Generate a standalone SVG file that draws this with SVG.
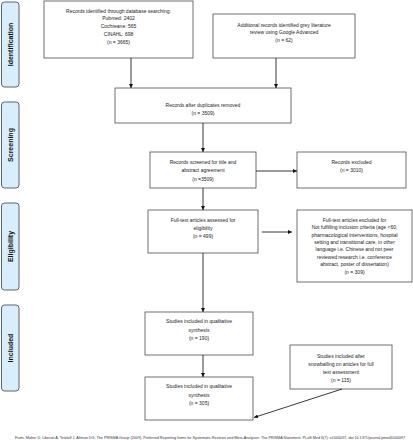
<svg xmlns="http://www.w3.org/2000/svg" width="413" height="440" viewBox="0 0 413 440">
<style>
.bg{fill:#fff}
.box{fill:#fff;stroke:#4d4d4d;stroke-width:0.8}
.side{fill:#d9eefc;stroke:#4a5563;stroke-width:0.9}
.t{font-family:"Liberation Sans",Arial,sans-serif;font-size:5px;fill:#222;text-anchor:middle}
.s{font-family:"Liberation Sans",Arial,sans-serif;font-size:7px;font-weight:bold;fill:#111;text-anchor:middle}
.f{font-family:"Liberation Sans",Arial,sans-serif;font-size:3.4px;fill:#333;text-anchor:middle}
.c{stroke:#222;stroke-width:0.9;fill:none;marker-end:url(#ah)}
</style>
<defs>
<marker id="ah" viewBox="0 0 10 10" refX="10" refY="5" markerWidth="4" markerHeight="4" orient="auto" markerUnits="userSpaceOnUse">
<path d="M0,0 L10,5 L0,10 z" fill="#111"/>
</marker>
</defs>
<rect class="bg" x="0" y="0" width="413" height="440"/>

<g id="side-identification"><rect class="side" x="1.5" y="2" width="17.5" height="85" rx="3"/><text class="s" transform="translate(12.5,44.5) rotate(-90)">Identification</text></g>
<g id="side-screening"><rect class="side" x="1.5" y="102" width="17.5" height="86" rx="3"/><text class="s" transform="translate(12.5,145) rotate(-90)">Screening</text></g>
<g id="side-eligibility"><rect class="side" x="1.5" y="203" width="17.5" height="87" rx="3"/><text class="s" transform="translate(12.5,246.5) rotate(-90)">Eligibility</text></g>
<g id="side-included"><rect class="side" x="1.5" y="305" width="17.5" height="86" rx="3"/><text class="s" transform="translate(12.5,348) rotate(-90)">Included</text></g>

<g id="n1"><rect class="box" x="44" y="1" width="149" height="57"/>
<text class="t" x="118.5" y="12.8">Records identified through database searching:</text>
<text class="t" x="118.5" y="20.3">Pubmed: 2402</text>
<text class="t" x="118.5" y="28">Cochreane: 565</text>
<text class="t" x="118.5" y="35.6">CINAHL: 698</text>
<text class="t" x="118.5" y="43.5">(n = 3665)</text></g>

<g id="n2"><rect class="box" x="213" y="14" width="142" height="44"/>
<text class="t" x="284" y="26.7">Additional records identified grey literature</text>
<text class="t" x="284" y="34">review using Google Advanced</text>
<text class="t" x="284" y="41.7">(n = 62)</text></g>

<g id="n3"><rect class="box" x="115" y="88" width="176" height="35"/>
<text class="t" x="203" y="106.7">Records after duplicates removed</text>
<text class="t" x="203" y="115">(n = 3509)</text></g>

<g id="n4"><rect class="box" x="150" y="152" width="106" height="36"/>
<text class="t" x="203" y="164">Records screened for title and</text>
<text class="t" x="203" y="172.4">abstract agreement</text>
<text class="t" x="203" y="180.7">(n =3509)</text></g>

<g id="n5"><rect class="box" x="297" y="152" width="109" height="36"/>
<text class="t" x="351.5" y="164">Records excluded</text>
<text class="t" x="351.5" y="172.4">(n = 3010)</text></g>

<g id="n6"><rect class="box" x="148" y="210" width="110" height="43"/>
<text class="t" x="203" y="221.7">Full-text articles assessed for</text>
<text class="t" x="203" y="230">eligibility</text>
<text class="t" x="203" y="238.4">(n = 499)</text></g>

<g id="n7"><rect class="box" x="297" y="210" width="115" height="72"/>
<text class="t" x="354.5" y="221.8">Full-text articles excluded for</text>
<text class="t" x="354.5" y="229.2">Not fulfilling inclusion criteria (age &lt;60,</text>
<text class="t" x="354.5" y="236.6">pharmacological interventions, hospital</text>
<text class="t" x="354.5" y="244">setting and transitional care, in other</text>
<text class="t" x="354.5" y="251.4">language i.e. Chinese and not peer</text>
<text class="t" x="354.5" y="258.8">reviewed research i.e. conference</text>
<text class="t" x="354.5" y="266.2">abstract, poster of dissertation)</text>
<text class="t" x="354.5" y="273.6">(n = 309)</text></g>

<g id="n8"><rect class="box" x="145" y="312" width="108" height="43"/>
<text class="t" x="199" y="323.4">Studies included in qualitative</text>
<text class="t" x="199" y="331.7">synthesis</text>
<text class="t" x="199" y="339.8">(n = 190)</text></g>

<g id="n9"><rect class="box" x="145" y="377" width="108" height="43"/>
<text class="t" x="199" y="388.4">Studies included in qualitative</text>
<text class="t" x="199" y="396.7">synthesis</text>
<text class="t" x="199" y="404.8">(n = 305)</text></g>

<g id="n10"><rect class="box" x="290" y="345" width="102" height="44"/>
<text class="t" x="341" y="358.4">Studies included after</text>
<text class="t" x="341" y="366.1">snowballing on articles for full</text>
<text class="t" x="341" y="374">text assessment</text>
<text class="t" x="341" y="381.8">(n = 115)</text></g>

<g id="connectors">
<line class="c" x1="131" y1="58" x2="131" y2="88"/>
<line class="c" x1="276" y1="58" x2="276" y2="88"/>
<line class="c" x1="203" y1="123" x2="203" y2="152"/>
<line class="c" x1="256" y1="171" x2="297" y2="171"/>
<line class="c" x1="203" y1="188" x2="203" y2="210"/>
<line class="c" x1="262" y1="232" x2="292" y2="232"/>
<line class="c" x1="203" y1="253" x2="203" y2="312"/>
<line class="c" x1="203" y1="355" x2="203" y2="377"/>
<line class="c" x1="342" y1="389" x2="254" y2="417.5"/>
</g>

<text class="f" x="210" y="438.5" textLength="390" lengthAdjust="spacingAndGlyphs">From: Moher D, Liberati A, Tetzlaff J, Altman DG, The PRISMA Group (2009). Preferred Reporting Items for Systematic Reviews and Meta-Analyses: The PRISMA Statement. PLoS Med 6(7): e1000097. doi:10.1371/journal.pmed1000097</text>
</svg>
